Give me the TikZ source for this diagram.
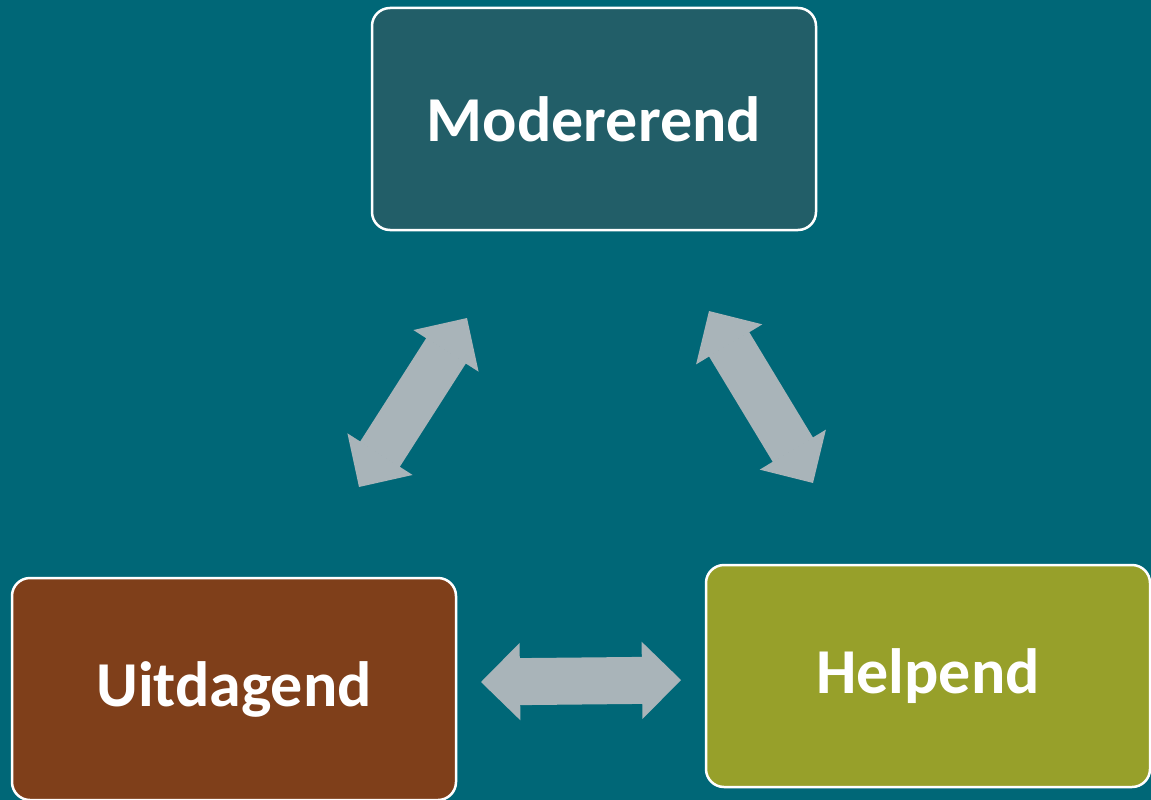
\documentclass[tikz,border=0pt]{standalone}
\usepackage{fontspec}
\setmainfont{Carlito}
\usetikzlibrary{arrows.meta}
\definecolor{bgteal}{HTML}{006777}
\definecolor{modfill}{HTML}{225E68}
\definecolor{uitfill}{HTML}{7F3F1A}
\definecolor{helpfill}{HTML}{97A02A}
\definecolor{linkgray}{HTML}{A9B4B9}
\begin{document}
\begin{tikzpicture}[x=1pt,y=-1pt,
  box/.style={draw=white, line width=2.5pt, rounded corners=18pt, minimum width=444pt, minimum height=222pt, text=white, font=\fontsize{64}{70}\selectfont\bfseries},
  link/.style={linkgray, line width=47pt, {Triangle[width=77pt,length=39pt,line width=2pt]}-{Triangle[width=77pt,length=39pt,line width=2pt]}}]
\useasboundingbox (0,0) rectangle (1151,800);
\fill[bgteal] (0,0) rectangle (1151,800);
\node[box, fill=modfill] (mod) at (594,119){Modererend};
\node[box, fill=uitfill] (uit) at (234,689){Uitdagend};
\node[box, fill=helpfill] (help) at (928,676){Helpend};
\coordinate (mu1) at (359,487);
\coordinate (mu2) at (467,318);
\coordinate (mh1) at (709,311);
\coordinate (mh2) at (813,483);
\coordinate (uh1) at (481,682);
\coordinate (uh2) at (681,680);
\draw[link] (mu1) -- (mu2);
\draw[link] (mh1) -- (mh2);
\draw[link] (uh1) -- (uh2);
\end{tikzpicture}
\end{document}
